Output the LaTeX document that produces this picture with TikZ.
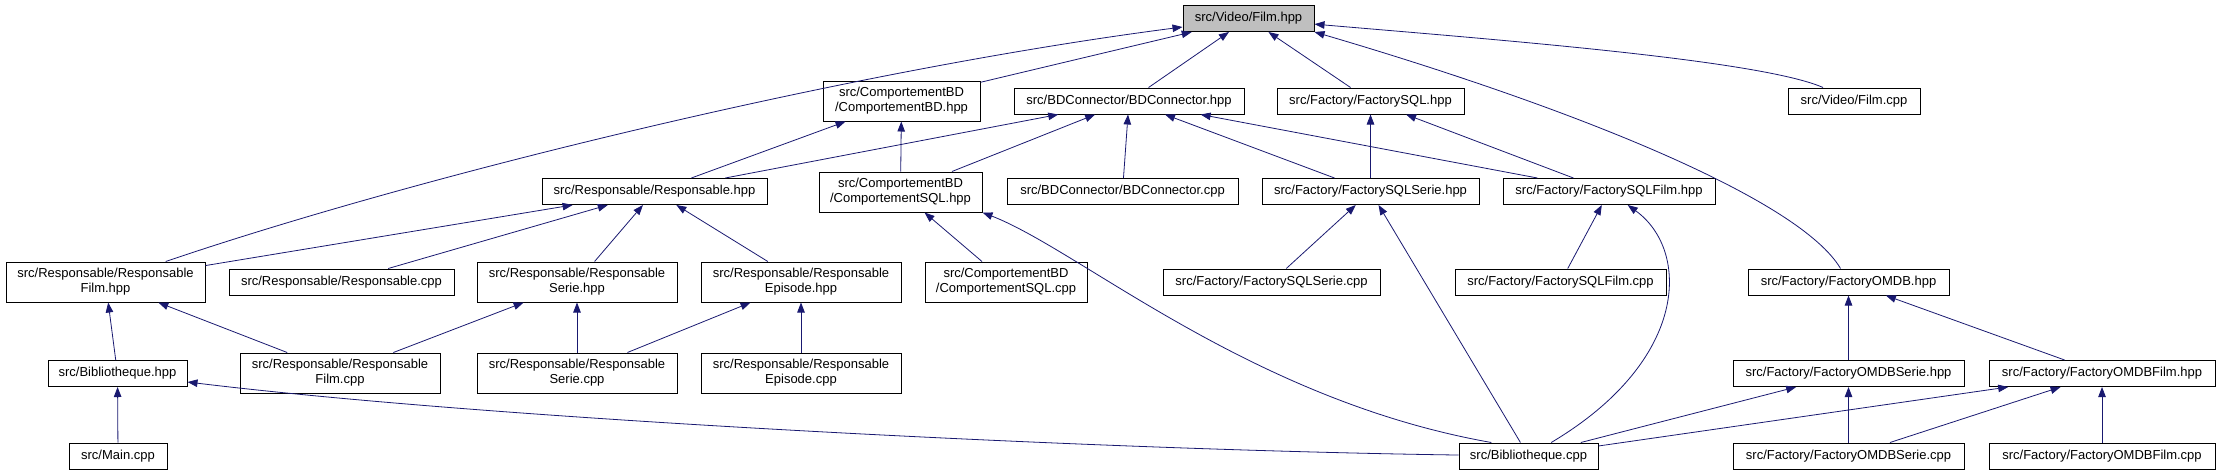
\documentclass[tikz,border=0pt]{standalone}
\usepackage{fontspec}
\setmainfont{Liberation Sans}
\usetikzlibrary{arrows.meta}
\definecolor{DoxNavy}{HTML}{191970}
\definecolor{DoxGray}{HTML}{BFBFBF}

\begin{document}
\begin{tikzpicture}[x=1pt,y=-1pt,
  file/.style={draw=black,fill=white,line width=1pt,inner sep=0pt,
    minimum height=26pt,align=center,font=\fontsize{13}{15}\selectfont},
  twoline/.style={file,minimum height=40pt},
  inc/.style={draw=DoxNavy,line width=0.8pt,
    -{Triangle[length=10pt,width=7.5pt,fill=DoxNavy]}}]
  \useasboundingbox (0,0) rectangle (2221,475);

  \node[file,fill=DoxGray,minimum width=131pt] (film_hpp) at (1248.5,18.5) {src/Video/Film.hpp};

  \node[twoline,minimum width=157pt] (compbd_hpp) at (901.5,101) {src/ComportementBD\\/ComportementBD.hpp};
  \node[file,minimum width=230pt] (bdconn_hpp) at (1129,101) {src/BDConnector/BDConnector.hpp};
  \node[file,minimum width=187pt] (factsql_hpp) at (1370.5,101) {src/Factory/FactorySQL.hpp};
  \node[file,minimum width=132pt] (film_cpp) at (1854,101) {src/Video/Film.cpp};

  \node[file,minimum width=225pt] (resp_hpp) at (654.5,191.5) {src/Responsable/Responsable.hpp};
  \node[twoline,minimum width=163pt] (compsql_hpp) at (900.5,192) {src/ComportementBD\\/ComportementSQL.hpp};
  \node[file,minimum width=231pt] (bdconn_cpp) at (1122.5,191.5) {src/BDConnector/BDConnector.cpp};
  \node[file,minimum width=217pt] (factsqlserie_hpp) at (1370.5,191.5) {src/Factory/FactorySQLSerie.hpp};
  \node[file,minimum width=212pt] (factsqlfilm_hpp) at (1609,191.5) {src/Factory/FactorySQLFilm.hpp};

  \node[twoline,minimum width=199pt] (respfilm_hpp) at (105.5,282) {src/Responsable/Responsable\\Film.hpp};
  \node[file,minimum width=225pt] (resp_cpp) at (341.5,282) {src/Responsable/Responsable.cpp};
  \node[twoline,minimum width=200pt] (respserie_hpp) at (577,282) {src/Responsable/Responsable\\Serie.hpp};
  \node[twoline,minimum width=200pt] (respepisode_hpp) at (801,282) {src/Responsable/Responsable\\Episode.hpp};
  \node[twoline,minimum width=162pt] (compsql_cpp) at (1006,282) {src/ComportementBD\\/ComportementSQL.cpp};
  \node[file,minimum width=217pt] (factsqlserie_cpp) at (1271.5,282) {src/Factory/FactorySQLSerie.cpp};
  \node[file,minimum width=211pt] (factsqlfilm_cpp) at (1560.5,282) {src/Factory/FactorySQLFilm.cpp};
  \node[file,minimum width=201pt] (factomdb_hpp) at (1848.5,282) {src/Factory/FactoryOMDB.hpp};

  \node[file,minimum width=139pt] (biblio_hpp) at (117.5,373.5) {src/Bibliotheque.hpp};
  \node[twoline,minimum width=200pt] (respfilm_cpp) at (340,373) {src/Responsable/Responsable\\Film.cpp};
  \node[twoline,minimum width=200pt] (respserie_cpp) at (577,373) {src/Responsable/Responsable\\Serie.cpp};
  \node[twoline,minimum width=200pt] (respepisode_cpp) at (801,373) {src/Responsable/Responsable\\Episode.cpp};
  \node[file,minimum width=231pt] (factomdbserie_hpp) at (1848.5,373.5) {src/Factory/FactoryOMDBSerie.hpp};
  \node[file,minimum width=226pt] (factomdbfilm_hpp) at (2102,373.5) {src/Factory/FactoryOMDBFilm.hpp};

  \node[file,minimum width=98pt] (main_cpp) at (118,456) {src/Main.cpp};
  \node[file,minimum width=139pt] (biblio_cpp) at (1528.5,456) {src/Bibliotheque.cpp};
  \node[file,minimum width=231pt] (factomdbserie_cpp) at (1848.5,456) {src/Factory/FactoryOMDBSerie.cpp};
  \node[file,minimum width=226pt] (factomdbfilm_cpp) at (2102,456) {src/Factory/FactoryOMDBFilm.cpp};

  % includes of Film.hpp
  \draw[inc] (respfilm_hpp) .. controls (420,175) and (850,70) .. (film_hpp);
  \draw[inc] (compbd_hpp) -- (film_hpp);
  \draw[inc] (bdconn_hpp) -- (film_hpp);
  \draw[inc] (factsql_hpp) -- (film_hpp);
  \draw[inc] (factomdb_hpp) .. controls (1800,200) and (1580,110) .. (film_hpp.south east);
  \draw[inc] (film_cpp) .. controls (1760,60) and (1500,40) .. (film_hpp);

  \draw[inc] (resp_hpp) -- (compbd_hpp);
  \draw[inc] (compsql_hpp) -- (compbd_hpp);
  \draw[inc] (resp_hpp) -- (bdconn_hpp);
  \draw[inc] (compsql_hpp) -- (bdconn_hpp);
  \draw[inc] (bdconn_cpp) -- (bdconn_hpp);
  \draw[inc] (factsqlserie_hpp) -- (bdconn_hpp);
  \draw[inc] (factsqlfilm_hpp) -- (bdconn_hpp);
  \draw[inc] (factsqlserie_hpp) -- (factsql_hpp);
  \draw[inc] (factsqlfilm_hpp) -- (factsql_hpp);

  \draw[inc] (respfilm_hpp) -- (resp_hpp);
  \draw[inc] (resp_cpp) -- (resp_hpp);
  \draw[inc] (respserie_hpp) -- (resp_hpp);
  \draw[inc] (respepisode_hpp) -- (resp_hpp);
  \draw[inc] (compsql_cpp) -- (compsql_hpp);
  \draw[inc] (biblio_cpp.160) .. controls (1250,400) and (1080,250) .. (compsql_hpp.south east);
  \draw[inc] (factsqlserie_cpp) -- (factsqlserie_hpp);
  \draw[inc] (biblio_cpp) -- (factsqlserie_hpp);
  \draw[inc] (factsqlfilm_cpp) -- (factsqlfilm_hpp);
  \draw[inc] (biblio_cpp) .. controls (1690,360) and (1690,250) .. (factsqlfilm_hpp);

  \draw[inc] (biblio_hpp) -- (respfilm_hpp);
  \draw[inc] (respfilm_cpp) -- (respfilm_hpp);
  \draw[inc] (respfilm_cpp) -- (respserie_hpp);
  \draw[inc] (respserie_cpp) -- (respserie_hpp);
  \draw[inc] (respserie_cpp) -- (respepisode_hpp);
  \draw[inc] (respepisode_cpp) -- (respepisode_hpp);
  \draw[inc] (factomdbserie_hpp) -- (factomdb_hpp);
  \draw[inc] (factomdbfilm_hpp) -- (factomdb_hpp);

  \draw[inc] (main_cpp) -- (biblio_hpp);
  \draw[inc] (biblio_cpp) .. controls (1100,450) and (500,420) .. (biblio_hpp);
  \draw[inc] (biblio_cpp) -- (factomdbserie_hpp);
  \draw[inc] (factomdbserie_cpp) -- (factomdbserie_hpp);
  \draw[inc] (biblio_cpp) -- (factomdbfilm_hpp);
  \draw[inc] (factomdbserie_cpp) -- (factomdbfilm_hpp);
  \draw[inc] (factomdbfilm_cpp) -- (factomdbfilm_hpp);
\end{tikzpicture}
\end{document}
